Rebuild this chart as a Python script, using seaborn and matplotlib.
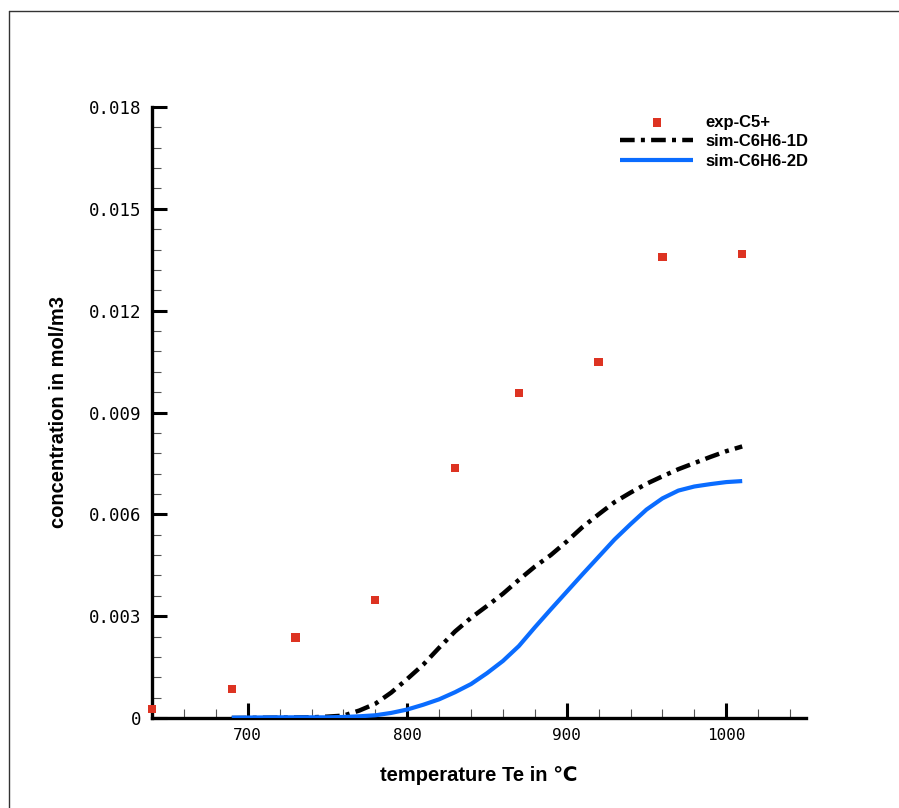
import numpy as np
import pandas as pd
import matplotlib
matplotlib.use('Agg')
import matplotlib.pyplot as plt
from matplotlib.ticker import MultipleLocator, FixedLocator
from matplotlib.lines import Line2D
import seaborn as sns

sns.set_style('white')
plt.rcParams['text.color'] = 'black'
plt.rcParams['axes.labelcolor'] = 'black'
plt.rcParams['xtick.color'] = 'black'
plt.rcParams['ytick.color'] = 'black'

#%% DATA
T_exp = [640, 690, 730, 780, 830, 870, 920, 960, 1010]
c_exp = [0.00027, 0.00086, 0.00237, 0.00348, 0.00737, 0.00958, 0.01049, 0.01359, 0.01367]

T_sim = [690, 720, 740, 750, 760, 770, 780, 790, 800, 810, 820, 830, 840, 850, 860, 870,
         880, 890, 900, 910, 920, 930, 940, 950, 960, 970, 980, 990, 1000, 1010]
c_sim_1d = [0.0, 0.00001, 0.00002, 0.00004, 0.00007, 0.00022, 0.00042, 0.00075, 0.00115,
            0.00157, 0.00207, 0.00255, 0.00295, 0.00330, 0.00366, 0.00407, 0.00446, 0.00480,
            0.00520, 0.00563, 0.00600, 0.00636, 0.00664, 0.00690, 0.00712, 0.00733, 0.00751,
            0.00769, 0.00786, 0.00800]
c_sim_2d = [0.00001, 0.00002, 0.00002, 0.00002, 0.00003, 0.00005, 0.00008, 0.00015, 0.00025,
            0.00039, 0.00055, 0.00076, 0.00100, 0.00132, 0.00168, 0.00212, 0.00267, 0.00320,
            0.00372, 0.00424, 0.00475, 0.00526, 0.00571, 0.00614, 0.00647, 0.00670, 0.00682,
            0.00689, 0.00695, 0.00698]

yticks = [0, 0.003, 0.006, 0.009, 0.012, 0.015, 0.018]
yticklabels = ['0', '0.003', '0.006', '0.009', '0.012', '0.015', '0.018']
xticks = [700, 800, 900, 1000]
xticklabels = ['700', '800', '900', '1000']

exp_df = pd.DataFrame({'T': T_exp, 'c': c_exp})
sim_df = pd.DataFrame({'T': T_sim, 'c1': c_sim_1d, 'c2': c_sim_2d})

#%% FIGURE
fig = plt.figure(figsize=(8.99, 8.08), dpi=100)
ax = fig.add_axes([152/899, (808-718)/808, 654/899, 611/808])

sns.scatterplot(data=exp_df, x='T', y='c', marker='s', s=36, color='#dd3322',
                edgecolor='none', linewidth=0, ax=ax, label='exp-C5+', clip_on=False, zorder=4)
sns.lineplot(data=sim_df, x='T', y='c1', color='black', lw=3.2,
             linestyle=(0, (3.3, 1.4, 0.9, 1.4)), ax=ax, label='sim-C6H6-1D', zorder=3)
sns.lineplot(data=sim_df, x='T', y='c2', color='#0a6cff', lw=3.0, ax=ax,
             label='sim-C6H6-2D', zorder=3)
for ln in ax.lines:
    ln.set_solid_capstyle('butt')
    ln.set_dash_capstyle('butt')

ax.set_xlim(640, 1050)
ax.set_ylim(0, 0.018)

ax.yaxis.set_major_locator(FixedLocator(yticks))
ax.set_yticklabels(yticklabels)
ax.yaxis.set_minor_locator(MultipleLocator(0.0006))
ax.xaxis.set_major_locator(FixedLocator(xticks))
ax.set_xticklabels(xticklabels)
ax.xaxis.set_minor_locator(MultipleLocator(20))

for s in ['top', 'right']:
    ax.spines[s].set_visible(False)
for s in ['left', 'bottom']:
    ax.spines[s].set_linewidth(2.4)
    ax.spines[s].set_color('black')

ax.tick_params(which='major', direction='in', length=11, width=2.2, color='black')
ax.tick_params(which='minor', direction='in', length=6.5, width=0.8, color='#555555')
ax.tick_params(axis='y', which='major', pad=8)
ax.tick_params(axis='x', which='major', pad=7)
ax.tick_params(which='both', left=True, bottom=True)

for lab in ax.get_yticklabels():
    lab.set_family('DejaVu Sans Mono')
    lab.set_fontsize(12.5)
for lab in ax.get_xticklabels():
    lab.set_family('DejaVu Sans Mono')
    lab.set_fontsize(11.5)

ax.set_xlabel('temperature Te in \u2103', fontsize=14.5, fontweight='bold',
              family=['Liberation Sans', 'DejaVu Sans'], labelpad=17)
ax.set_ylabel('concentration in mol/m3', fontsize=14.5, fontweight='bold',
              family=['Liberation Sans', 'DejaVu Sans'], labelpad=15)

leg = ax.legend(loc='upper left', bbox_to_anchor=(0.7156, 0.987), frameon=False,
                borderpad=0, borderaxespad=0, handlelength=4.4, handletextpad=0.7,
                labelspacing=0.26, prop={'family': 'Liberation Sans', 'weight': 'bold', 'size': 12})
for t in leg.get_texts():
    t.set_color('black')

# figure border (top and left edges visible)
fig.add_artist(Line2D([9/899, 1], [(808-11)/808] * 2, transform=fig.transFigure,
                      color='#333333', lw=1))
fig.add_artist(Line2D([9/899] * 2, [0, (808-11)/808], transform=fig.transFigure,
                      color='#333333', lw=1))

fig.savefig('out.png', dpi=100)
